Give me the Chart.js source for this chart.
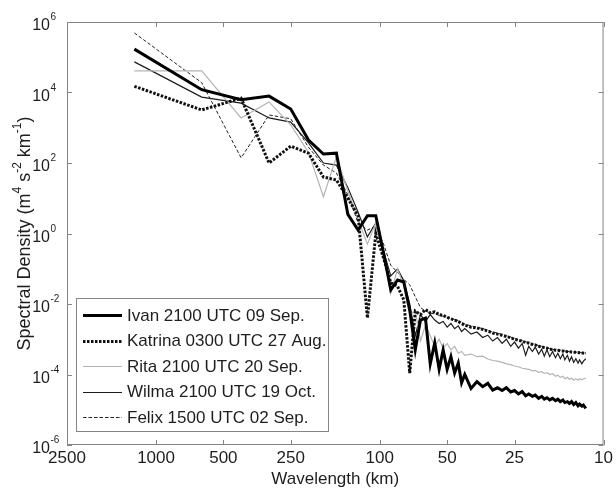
<!DOCTYPE html>
<html>
<head>
<meta charset="utf-8">
<script src="https://cdn.jsdelivr.net/npm/chart.js@4.4.1/dist/chart.umd.min.js"></script>
<style>
  html, body { margin: 0; padding: 0; background: #fff; }
  #spectra { display: block; }
</style>
</head>
<body>
<canvas id="spectra" width="616" height="490"></canvas>
<script>
// wavelength of each spectral band (km)
const wavelengths = [1250, 625, 416.7, 312.5, 250, 208.3, 178.6, 156.3, 138.9, 125,
    113.6, 104.2, 96.2, 89.3, 83.3, 78.1, 73.5, 69.4, 65.8, 62.5,
    59.5, 56.8, 54.3, 52.1, 50, 48.1, 46.3, 44.6, 43.1, 41.7,
    39.1, 36.8, 34.7, 32.9, 31.3, 29.8, 28.4, 27.2, 26, 25,
    24, 23.1, 22.3, 21.6, 20.8, 20.2, 19.5, 18.9, 18.4, 17.9,
    17.4, 16.9, 16.4, 16, 15.6, 15.2, 14.9, 14.5, 14.2, 13.9,
    13.6, 13.3, 13, 12.8, 12.5, 12.3, 12];

// spectral density (m^4 s^-2 km^-1)
const ivan = [1.7e5, 1.2e4, 6.2e3, 7.9e3, 3.4e3, 4.5e2, 1.8e2, 1.9e2, 3.5, 1.26,
    3.2, 3.2, 2.8e-1, 2.5e-2, 4.8e-2, 4.2e-2, 6.8e-3, 5e-4, 3.5e-3, 4e-3,
    2e-4, 7.9e-4, 1.4e-4, 5e-4, 1.4e-4, 3.2e-4, 1.1e-4, 2.1e-4, 5.8e-5, 1e-4,
    4e-5, 6.3e-5, 4.5e-5, 5.6e-5, 3.6e-5, 4.2e-5, 3.5e-5, 4.2e-5, 3.2e-5, 3.5e-5,
    2.8e-5, 3.3e-5, 2.5e-5, 2.8e-5, 2.4e-5, 2.6e-5, 2.1e-5, 2.4e-5, 2e-5, 2.2e-5,
    1.9e-5, 2.1e-5, 1.8e-5, 2e-5, 1.7e-5, 1.9e-5, 1.6e-5, 1.7e-5, 1.5e-5, 1.7e-5,
    1.4e-5, 1.6e-5, 1.3e-5, 1.45e-5, 1.26e-5, 1.35e-5, 1.1e-5];

const katrina = [1.5e4, 3.2e3, 6.9e3, 1e2, 3e2, 1.9e2, 4e1, 3.3e1, 1e1, 3.2,
    4e-3, 1, 2e-1, 4e-2, 3.2e-2, 1.3e-2, 1.1e-4, 6.3e-3, 5e-3, 7e-3,
    5.6e-3, 6e-3, 5e-3, 4.7e-3, 4.2e-3, 3.8e-3, 3.5e-3, 3.2e-3, 2.8e-3, 2.5e-3,
    2.2e-3, 2.1e-3, 1.9e-3, 1.7e-3, 1.5e-3, 1.4e-3, 1.3e-3, 1.2e-3, 1.1e-3, 1e-3,
    9.3e-4, 8.8e-4, 8.1e-4, 7.8e-4, 7.1e-4, 6.9e-4, 6.3e-4, 6.1e-4, 5.8e-4, 5.6e-4,
    5.2e-4, 5.1e-4, 4.9e-4, 4.85e-4, 4.7e-4, 4.65e-4, 4.5e-4, 4.45e-4, 4.4e-4, 4.35e-4,
    4.3e-4, 4.25e-4, 4.2e-4, 4.15e-4, 4.1e-4, 4.05e-4, 4e-4];

const rita = [4.1e4, 4.1e4, 1.9e3, 5.4e3, 1.2e3, 2e2, 1.1e1, 1.5e2, 1.6e1, 2.5,
    5e-1, 2, 2.5e-1, 2e-2, 1e-1, 3.2e-2, 5e-3, 6.3e-3, 8.9e-4, 2.5e-3,
    1.26e-3, 6.3e-4, 1e-3, 5.6e-4, 7.6e-4, 5e-4, 6.3e-4, 4e-4, 4.5e-4, 3.5e-4,
    3.8e-4, 3.2e-4, 3.3e-4, 2.75e-4, 2.5e-4, 2.4e-4, 2.2e-4, 2e-4, 1.9e-4, 1.74e-4,
    1.66e-4, 1.5e-4, 1.45e-4, 1.4e-4, 1.26e-4, 1.3e-4, 1.15e-4, 1.2e-4, 1.07e-4, 1.12e-4,
    1e-4, 1.05e-4, 8.9e-5, 9.5e-5, 8.3e-5, 8.9e-5, 7.6e-5, 8.3e-5, 7.2e-5, 7.9e-5,
    6.9e-5, 7.6e-5, 6.9e-5, 7.6e-5, 7.1e-5, 7.6e-5, 7.9e-5];

const wilma = [7.4e4, 7.4e3, 5e3, 1.9e3, 1.45e3, 3.7e2, 1e2, 8.7e1, 2e1, 4,
    8e-1, 2, 3.2e-1, 6.3e-2, 1e-1, 4.5e-2, 1e-2, 1.26e-3, 5e-3, 3.2e-3,
    5e-3, 3.5e-3, 2.8e-3, 3.2e-3, 2.2e-3, 2.8e-3, 2e-3, 2.4e-3, 1.66e-3, 2e-3,
    1.4e-3, 1.6e-3, 1.12e-3, 1.3e-3, 8.9e-4, 1.12e-3, 7.6e-4, 1e-3, 6.3e-4, 8.3e-4,
    5.6e-4, 7.6e-4, 3.5e-4, 6.3e-4, 4.5e-4, 6e-4, 3.8e-4, 5.2e-4, 3.3e-4, 5e-4,
    3.2e-4, 4.5e-4, 3e-4, 4e-4, 2.8e-4, 3.8e-4, 2.6e-4, 3.5e-4, 2.4e-4, 3.2e-4,
    2.2e-4, 2.8e-4, 2.1e-4, 2.6e-4, 2e-4, 2.4e-4, 2.8e-4];

const felix = [4.9e5, 1.9e4, 1.4e2, 2.3e3, 1.8e3, 2.8e2, 8.7e1, 5.2e1, 1.26e1, 2,
    1.26, 1.6, 5e-1, 1.26e-1, 7.9e-2, 5e-2, 3.5e-2, 1.6e-2, 7.9e-3, 6.3e-3,
    5.6e-3, 5.2e-3, 4.8e-3, 4.5e-3, 4.2e-3, 3.9e-3, 3.6e-3, 3.3e-3, 3e-3, 2.7e-3,
    2.4e-3, 2.2e-3, 2e-3, 1.8e-3, 1.6e-3, 1.5e-3, 1.35e-3, 1.25e-3, 1.15e-3, 1.05e-3,
    9.8e-4, 9.1e-4, 8.5e-4, 8e-4, 7.5e-4, 7e-4, 6.6e-4, 6.3e-4, 6e-4, 5.7e-4,
    5.4e-4, 5.2e-4, 5e-4, 4.9e-4, 4.8e-4, 4.7e-4, 4.6e-4, 4.5e-4, 4.45e-4, 4.4e-4,
    4.35e-4, 4.3e-4, 4.25e-4, 4.2e-4, 4.15e-4, 4.1e-4, 4.05e-4];

const stormLabels = ['Ivan 2100 UTC 09 Sep.', 'Katrina 0300 UTC 27 Aug.', 'Rita 2100 UTC 20 Sep.',
    'Wilma 2100 UTC 19 Oct.', 'Felix 1500 UTC 02 Sep.'];
const xTickValues = [2500, 1000, 500, 250, 100, 50, 25, 10];
const yExponents = [6, 4, 2, 0, -2, -4, -6];

const FONT = "'Liberation Sans', Arial, Helvetica, sans-serif";
const TEXT = '#1e1e1e';
const FRAME = '#858585';

const lineStyles = [
    { color: '#000000', width: 3, dash: [] },
    { color: '#111111', width: 3, dash: [2.5, 1.5] },
    { color: '#b4b4b4', width: 1.2, dash: [] },
    { color: '#1c1c1c', width: 1.2, dash: [] },
    { color: '#222222', width: 1, dash: [3.5, 2] },
];

function toPoints(values) {
    return values.map((v, i) => ({ x: wavelengths[i], y: v }));
}

const allSeries = [ivan, katrina, rita, wilma, felix];

// draw text with a run of raised, smaller pieces; parts = [[text, isSup], ...]
function drawRich(ctx, parts, x, y, size) {
    let cx = x;
    parts.forEach(([txt, sup]) => {
        ctx.font = (sup ? Math.round(size * 0.65) : size) + 'px ' + FONT;
        ctx.fillText(txt, cx, sup ? y - size * 0.42 : y);
        cx += ctx.measureText(txt).width;
    });
    return cx - x;
}
function richWidth(ctx, parts, size) {
    let w = 0;
    parts.forEach(([txt, sup]) => {
        ctx.font = (sup ? Math.round(size * 0.65) : size) + 'px ' + FONT;
        w += ctx.measureText(txt).width;
    });
    return w;
}

const framePlugin = {
    id: 'matlabFrame',
    afterDatasetsDraw(chart) {
        const { ctx, chartArea: a, scales: { x, y } } = chart;
        ctx.save();

        // axes box with inward tick marks
        ctx.strokeStyle = FRAME;
        ctx.lineWidth = 1;
        ctx.setLineDash([]);
        ctx.strokeRect(a.left + 0.5, a.top + 0.5, a.right - a.left - 1, a.bottom - a.top - 1);
        ctx.beginPath();
        xTickValues.forEach(v => {
            const px = Math.round(x.getPixelForValue(v)) + 0.5;
            ctx.moveTo(px, a.bottom); ctx.lineTo(px, a.bottom - 5);
            ctx.moveTo(px, a.top); ctx.lineTo(px, a.top + 5);
        });
        yExponents.forEach(e => {
            const py = Math.round(y.getPixelForValue(Math.pow(10, e))) + 0.5;
            ctx.moveTo(a.left, py); ctx.lineTo(a.left + 5, py);
            ctx.moveTo(a.right, py); ctx.lineTo(a.right - 5, py);
        });
        ctx.stroke();

        // y tick labels as powers of ten
        ctx.fillStyle = TEXT;
        ctx.textBaseline = 'alphabetic';
        yExponents.forEach(e => {
            const py = y.getPixelForValue(Math.pow(10, e));
            ctx.font = '16px ' + FONT;
            ctx.textAlign = 'right';
            ctx.fillText('10', 50, py + 8);
            ctx.font = '10px ' + FONT;
            ctx.textAlign = 'left';
            ctx.fillText(String(e), 50.5, py - 2);
        });

        // y axis title
        const title = [['Spectral Density (m', false], ['4', true], [' s', false], ['-2', true],
            [' km', false], ['-1', true], [')', false]];
        ctx.save();
        ctx.translate(25, (a.top + a.bottom) / 2);
        ctx.rotate(-Math.PI / 2);
        ctx.textAlign = 'left';
        ctx.textBaseline = 'middle';
        const tw = richWidth(ctx, title, 18);
        drawRich(ctx, title, -tw / 2, 0, 18);
        ctx.restore();

        // legend
        const lx = 76, ly = 298, lw = 252, lh = 133;
        ctx.fillStyle = '#ffffff';
        ctx.fillRect(lx, ly, lw, lh);
        ctx.strokeStyle = FRAME;
        ctx.lineWidth = 1;
        ctx.strokeRect(lx + 0.5, ly + 0.5, lw, lh);
        chart.data.datasets.forEach((ds, i) => {
            const rowY = 315 + i * 25.6;
            ctx.beginPath();
            ctx.strokeStyle = ds.borderColor;
            ctx.lineWidth = ds.borderWidth;
            ctx.setLineDash(ds.borderDash || []);
            ctx.moveTo(83, Math.round(rowY) + 0.5);
            ctx.lineTo(122, Math.round(rowY) + 0.5);
            ctx.stroke();
            ctx.setLineDash([]);
            ctx.fillStyle = TEXT;
            ctx.font = '17px ' + FONT;
            ctx.textAlign = 'left';
            ctx.textBaseline = 'middle';
            ctx.fillText(ds.label, 127, rowY + 1);
        });

        ctx.restore();
    }
};

new Chart(document.getElementById('spectra'), {
    type: 'line',
    data: {
        datasets: allSeries.map((vals, i) => ({
            label: stormLabels[i],
            data: toPoints(vals),
            borderColor: lineStyles[i].color,
            borderWidth: lineStyles[i].width,
            borderDash: lineStyles[i].dash,
            borderCapStyle: 'butt',
            borderJoinStyle: 'miter',
            pointRadius: 0,
            tension: 0,
            fill: false
        }))
    },
    options: {
        responsive: false,
        animation: false,
        devicePixelRatio: 1,
        layout: { padding: { left: 0, right: 12, top: 22, bottom: 0 } },
        plugins: { legend: { display: false }, tooltip: { enabled: false } },
        scales: {
            x: {
                type: 'logarithmic',
                reverse: true,
                min: 10,
                max: 2500,
                afterBuildTicks: s => { s.ticks = xTickValues.map(v => ({ value: v })); },
                afterFit: s => { s.height = 45; },
                grid: { display: false, drawTicks: false },
                border: { display: false },
                ticks: {
                    autoSkip: false,
                    maxRotation: 0,
                    padding: 3,
                    color: TEXT,
                    font: { family: FONT, size: 17 },
                    callback: v => String(v)
                },
                title: {
                    display: true,
                    text: 'Wavelength (km)',
                    color: TEXT,
                    font: { family: FONT, size: 17 },
                    padding: { top: 0, bottom: 0 }
                }
            },
            y: {
                type: 'logarithmic',
                min: 1e-6,
                max: 1e6,
                afterBuildTicks: s => { s.ticks = yExponents.map(e => ({ value: Math.pow(10, e) })); },
                afterFit: s => { s.width = 67; },
                grid: { display: false, drawTicks: false },
                border: { display: false },
                ticks: { display: false }
            }
        }
    },
    plugins: [framePlugin]
});
</script>
</body>
</html>
